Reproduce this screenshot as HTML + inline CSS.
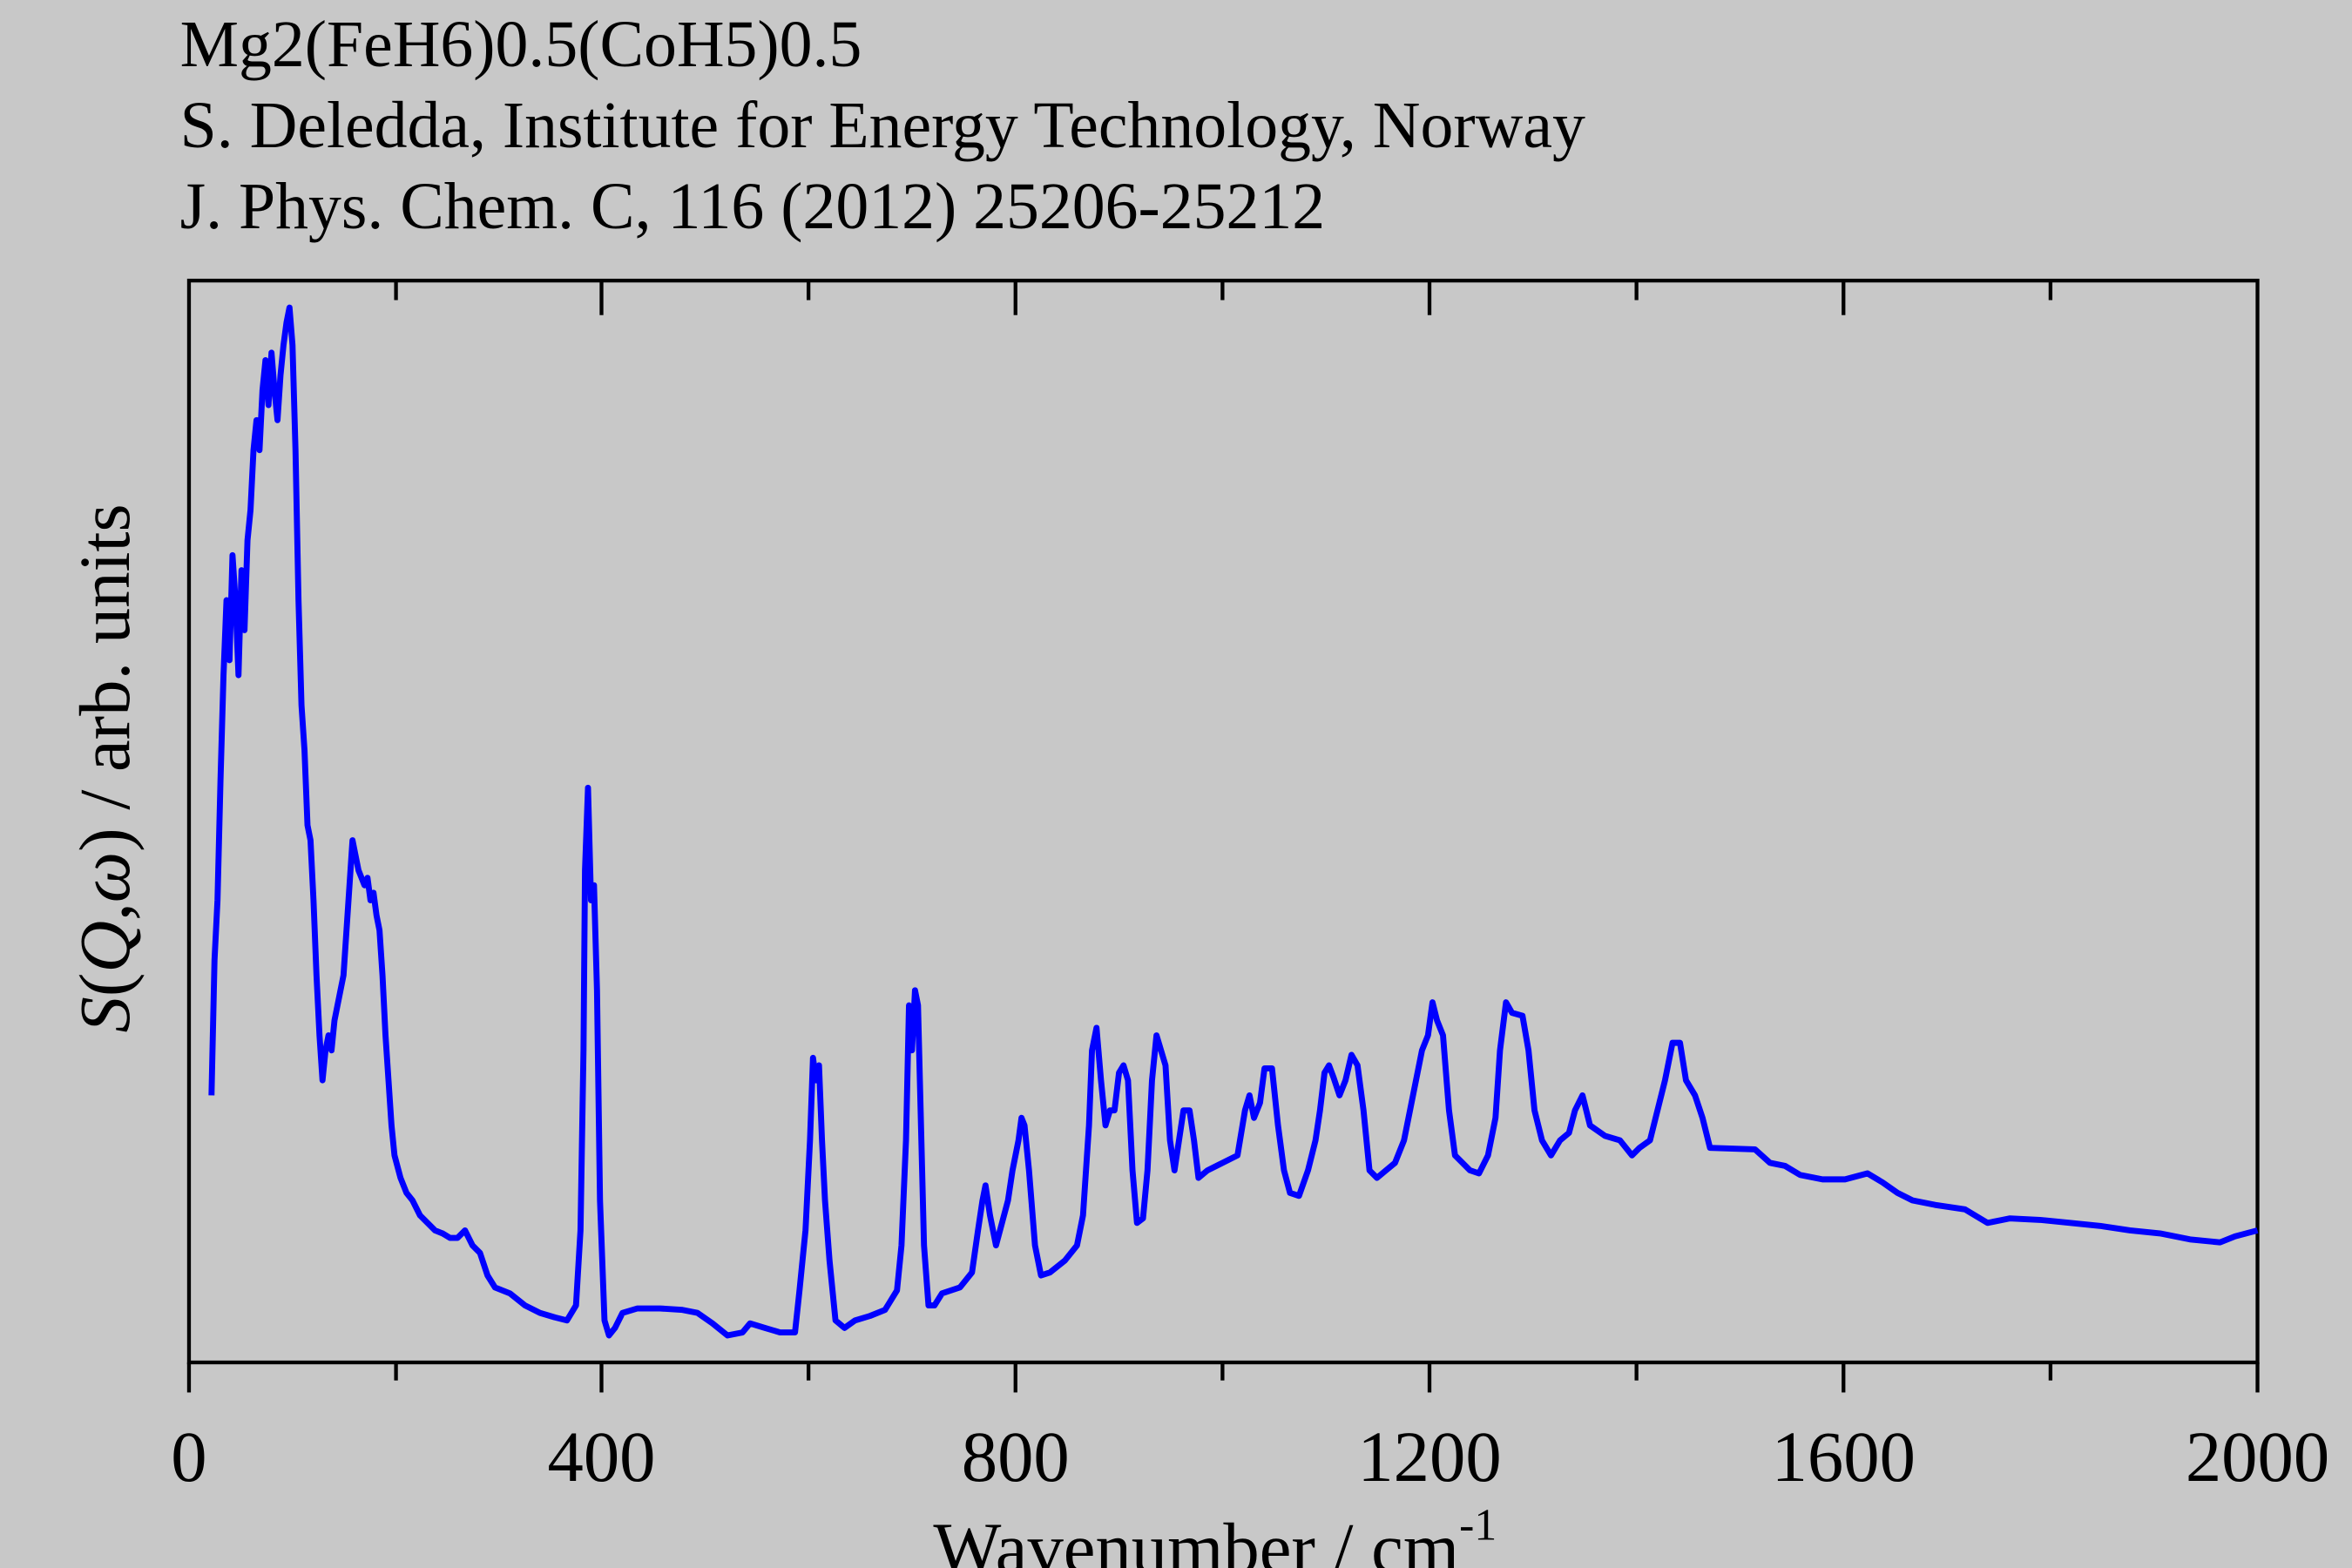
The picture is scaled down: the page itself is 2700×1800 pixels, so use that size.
<!DOCTYPE html>
<html><head><meta charset="utf-8"><style>
html,body{margin:0;padding:0;background:#c8c8c8;width:2700px;height:1800px;overflow:hidden}
svg{display:block}
text{font-family:"Liberation Serif",serif;fill:#000}
</style></head><body>
<svg width="2700" height="1800" viewBox="0 0 1568 1045" preserveAspectRatio="none">
<rect width="1568" height="1045" fill="#c8c8c8"/>
<text x="120" y="44" font-size="44">Mg2(FeH6)0.5(CoH5)0.5</text>
<text x="120" y="98" font-size="44">S. Deledda, Institute for Energy Technology, Norway</text>
<text x="120" y="152" font-size="44">J. Phys. Chem. C, 116 (2012) 25206-25212</text>
<rect x="126" y="187" width="1379" height="721" fill="none" stroke="#000" stroke-width="2.5"/>
<g stroke="#000" stroke-width="2.5">
<line x1="126" y1="908" x2="126" y2="928"/><line x1="401" y1="908" x2="401" y2="928"/><line x1="677" y1="908" x2="677" y2="928"/><line x1="953" y1="908" x2="953" y2="928"/><line x1="1229" y1="908" x2="1229" y2="928"/><line x1="1505" y1="908" x2="1505" y2="928"/>
<line x1="264" y1="908" x2="264" y2="920"/><line x1="539" y1="908" x2="539" y2="920"/><line x1="815" y1="908" x2="815" y2="920"/><line x1="1091" y1="908" x2="1091" y2="920"/><line x1="1367" y1="908" x2="1367" y2="920"/>
<line x1="401" y1="187" x2="401" y2="210"/><line x1="677" y1="187" x2="677" y2="210"/><line x1="953" y1="187" x2="953" y2="210"/><line x1="1229" y1="187" x2="1229" y2="210"/>
<line x1="264" y1="187" x2="264" y2="200"/><line x1="539" y1="187" x2="539" y2="200"/><line x1="815" y1="187" x2="815" y2="200"/><line x1="1091" y1="187" x2="1091" y2="200"/><line x1="1367" y1="187" x2="1367" y2="200"/>
</g>
<g font-size="48" text-anchor="middle">
<text x="126" y="987">0</text><text x="401" y="987">400</text><text x="677" y="987">800</text><text x="953" y="987">1200</text><text x="1229" y="987">1600</text><text x="1505" y="987">2000</text>
</g>
<text x="810" y="1048" font-size="48" text-anchor="middle">Wavenumber / cm<tspan font-size="30" dy="-22">-1</tspan></text>
<text transform="translate(86,512) rotate(-90)" font-size="48" text-anchor="middle"><tspan font-style="italic">S</tspan>(<tspan font-style="italic">Q</tspan>,<tspan font-style="italic">ω</tspan>) / arb. units</text>
<polyline fill="none" stroke="#0000ff" stroke-width="4" stroke-linejoin="round" points="141,730 143,640 145,600 147,520 149,450 151,400 153,440 155,370 157,400 159,450 161,380 163,420 165,360 167,340 169,300 171,280 173,300 175,260 177,240 179,270 181,235 183,260 185,280 187,250 189,230 191,215 193,205 195,230 197,300 199,400 201,470 203,500 205,550 207,560 209,600 211,650 213,690 215,720 217,700 219,690 221,700 223,680 225,670 227,660 229,650 231,620 233,590 235,560 237,570 239,580 241,585 243,590 245,585 247,600 249,595 251,610 253,620 255,650 257,690 259,720 261,750 263,770 267,785 271,795 275,800 280,810 285,815 290,820 295,822 300,825 305,825 310,820 315,830 320,835 325,850 330,858 340,862 350,870 360,875 370,878 378,880 384,870 387,820 389,700 390,580 392,525 394,600 396,590 398,660 400,800 403,880 406,890 410,885 415,875 425,872 440,872 455,873 465,875 475,882 485,890 495,888 500,882 510,885 520,888 530,888 533,860 537,820 540,760 542,705 544,720 546,710 548,760 550,800 553,840 557,880 563,885 570,880 580,877 590,873 598,860 601,830 604,760 606,670 608,700 610,660 612,670 614,750 616,830 619,870 623,870 628,862 640,858 648,848 652,820 655,800 657,790 660,810 664,830 668,815 672,800 675,780 679,760 681,745 683,750 686,780 690,830 694,850 700,848 710,840 718,830 722,810 726,750 728,700 731,685 734,720 737,750 740,740 743,740 746,715 749,710 752,720 755,780 758,815 762,812 765,780 768,720 771,690 774,700 777,710 780,760 783,780 786,760 789,740 793,740 796,760 799,785 805,780 815,775 825,770 830,740 833,730 836,745 840,735 843,712 848,712 852,750 856,780 860,795 866,797 872,780 877,760 880,740 883,715 886,710 889,718 893,730 897,720 901,703 905,710 909,740 913,780 918,785 924,780 930,775 936,760 940,740 944,720 948,700 952,690 955,668 958,680 962,690 966,740 970,770 975,775 980,780 986,782 992,770 997,745 1000,700 1004,668 1008,675 1015,677 1019,700 1023,740 1028,760 1034,770 1040,760 1046,755 1050,740 1055,730 1060,750 1070,757 1080,760 1088,770 1093,765 1100,760 1105,740 1110,720 1115,695 1120,695 1124,720 1130,730 1135,745 1140,765 1170,766 1180,775 1190,777 1200,783 1215,786 1230,786 1245,782 1255,788 1265,795 1275,800 1290,803 1310,806 1325,815 1340,812 1360,813 1380,815 1400,817 1420,820 1440,822 1460,826 1480,828 1490,824 1505,820"/>
</svg>
</body></html>
